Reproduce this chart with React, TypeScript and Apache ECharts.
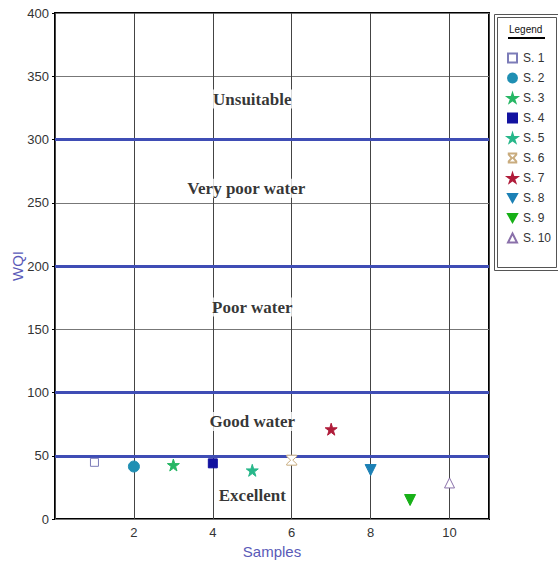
import React, { useEffect, useRef } from "react";
import * as echarts from "echarts";

const sampleNames = ["S. 1", "S. 2", "S. 3", "S. 4", "S. 5", "S. 6", "S. 7", "S. 8", "S. 9", "S. 10"];
const sampleX = [1, 2, 3, 4, 5, 6, 7, 8, 9, 10];
const sampleWQI = [44.8, 41.5, 42.7, 44, 38.5, 46.5, 71, 38.7, 15, 28.5];

const zoneNames = ["Unsuitable", "Very poor water", "Poor water", "Good water", "Excellent"];
const zoneX = [5, 4.85, 5, 5, 5];
const zoneY = [332, 261.5, 167.5, 77, 18.5];
const limitLines = [50, 100, 200, 300];

const STAR = "path://M50,0 L61,35 L98,35 L68,57 L79,91 L50,70 L21,91 L32,57 L2,35 L39,35 Z";
const HOURGLASS = "path://M0,0 L10,0 L10,1.5 L6,6 L10,10.5 L10,12 L0,12 L0,10.5 L4,6 L0,1.5 Z";
const DOWN = "path://M0,0 L10,0 L5,9 Z";

const markerStyles = [
  { symbol: "rect", size: 8, color: "#ffffff", border: "#7c7cb8" },
  { symbol: "circle", size: 11, color: "#1f8fb3", border: "#1f8fb3" },
  { symbol: STAR, size: 12, color: "#27b765", border: "#27b765" },
  { symbol: "rect", size: 9, color: "#1212a0", border: "#1212a0" },
  { symbol: STAR, size: 12, color: "#27b78a", border: "#27b78a" },
  { symbol: HOURGLASS, size: 10, color: "#ffffff", border: "#c9ac7e" },
  { symbol: STAR, size: 12, color: "#b01c3a", border: "#b01c3a" },
  { symbol: DOWN, size: 11, color: "#1c80b5", border: "#1c80b5" },
  { symbol: DOWN, size: 11, color: "#17b017", border: "#17b017" },
  { symbol: "triangle", size: 10, color: "#ffffff", border: "#8a70aa" },
];

export default function App() {
  const ref = useRef<HTMLDivElement>(null);
  useEffect(() => {
    if (!ref.current) return;
    const chart = echarts.init(ref.current, null, { renderer: "svg" });
    const sampleSeries = sampleNames.map((name, i) => ({
      name,
      type: "scatter",
      z: 5,
      symbol: markerStyles[i].symbol,
      symbolSize: markerStyles[i].size,
      itemStyle: {
        color: markerStyles[i].color,
        borderColor: markerStyles[i].border,
        borderWidth: 1,
        opacity: 1,
      },
      data: [[sampleX[i], sampleWQI[i]]],
    }));
    const zoneSeries = {
      name: "zones",
      type: "scatter",
      z: 4,
      symbolSize: 0,
      silent: true,
      data: zoneNames.map((n, i) => ({ name: n, value: [zoneX[i], zoneY[i]] })),
      label: {
        show: true,
        position: "inside",
        formatter: (p: any) => p.name,
        fontFamily: "'Liberation Serif', 'Times New Roman', serif",
        fontWeight: 900,
        fontSize: 17,
        color: "#000",
        backgroundColor: "#ffffff",
        padding: [1, 2],
      },
      markLine: {
        silent: true,
        symbol: "none",
        label: { show: false },
        lineStyle: { color: "#3f4db5", width: 3, type: "solid" },
        data: limitLines.map((v) => ({ yAxis: v })),
      },
    };
    chart.setOption({
      animation: false,
      backgroundColor: "#ffffff",
      textStyle: { fontFamily: "'Liberation Sans', Arial, sans-serif" },
      grid: {
        left: 55,
        right: 69,
        top: 13,
        bottom: 43,
        containLabel: false,
        outerBoundsMode: "none",
        show: true,
        borderColor: "#000",
        borderWidth: 2,
        backgroundColor: "#ffffff",
      },
      xAxis: {
        type: "value",
        min: 0,
        max: 11,
        interval: 2,
        name: "Samples",
        nameLocation: "middle",
        nameGap: 25,
        nameMoveOverlap: false,
        nameTextStyle: { color: "#5a5ab8", fontSize: 15 },
        axisLine: { show: false },
        axisTick: { show: false },
        axisLabel: {
          color: "#333",
          fontSize: 13,
          margin: 7,
          formatter: (v: number) => (v === 0 || v === 11 ? "" : String(v)),
        },
        splitLine: { show: true, lineStyle: { color: "#444", width: 1 } },
      },
      yAxis: {
        type: "value",
        min: 0,
        max: 400,
        interval: 50,
        name: "WQI",
        nameLocation: "middle",
        nameGap: 30,
        nameMoveOverlap: false,
        nameTextStyle: { color: "#5a5ab8", fontSize: 15 },
        axisLine: { show: false },
        axisTick: { show: true, length: 3, lineStyle: { color: "#000" } },
        axisLabel: { color: "#333", fontSize: 13, margin: 6 },
        splitLine: { show: true, lineStyle: { color: "#777", width: 1 } },
      },
      legend: {
        orient: "vertical",
        left: 502,
        top: 47,
        itemWidth: 9,
        itemHeight: 9,
        itemGap: 8,
        data: sampleNames,
        textStyle: { color: "#333", fontSize: 12, lineHeight: 12, padding: [0, 0, 0, 1] },
      },
      graphic: [
        {
          type: "rect",
          left: 492,
          top: 12,
          shape: { width: 65, height: 256 },
          style: { fill: "none", stroke: "#555", lineWidth: 1 },
          z: 1,
        },
        {
          type: "rect",
          left: 495,
          top: 15,
          shape: { width: 59, height: 250 },
          style: { fill: "none", stroke: "#555", lineWidth: 1 },
          z: 1,
        },
        {
          type: "text",
          left: 509,
          top: 24,
          style: { text: "Legend", fontSize: 10, fill: "#111", fontFamily: "'Liberation Sans', Arial, sans-serif" },
        },
        {
          type: "line",
          shape: { x1: 508, y1: 38, x2: 545, y2: 38 },
          style: { stroke: "#000", lineWidth: 2 },
        },
      ],
      series: [zoneSeries, ...sampleSeries],
    });
    return () => chart.dispose();
  }, []);
  return (
    <div
      ref={ref}
      style={{ position: "absolute", left: 0, top: 0, width: 558, height: 562 }}
    />
  );
}
